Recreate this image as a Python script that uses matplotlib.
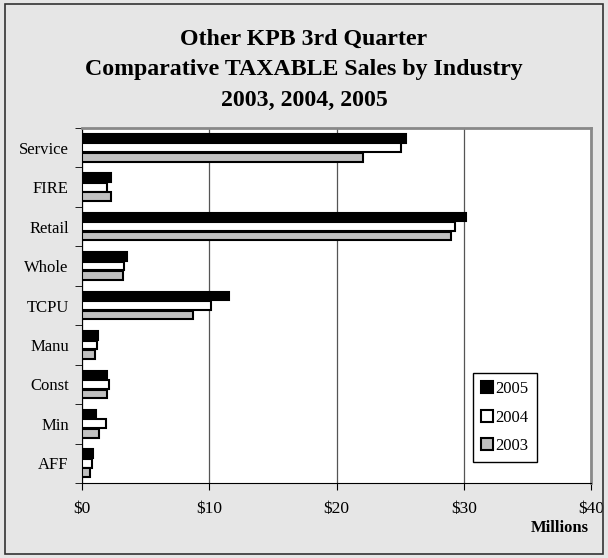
import numpy as np
import matplotlib.pyplot as plt
from matplotlib.patches import Rectangle

plt.rcParams['font.family'] = ['Liberation Serif', 'DejaVu Serif']

# Industries, top to bottom
industries = ['Service', 'FIRE', 'Retail', 'Whole', 'TCPU', 'Manu', 'Const', 'Min', 'AFF']
years = ['2005', '2004', '2003']

# Taxable sales in millions of dollars
sales_2005 = [25.5, 2.25, 30.2, 3.5, 11.55, 1.25, 1.95, 1.1, 0.9]
sales_2004 = [25.1, 2.0, 29.3, 3.3, 10.1, 1.2, 2.1, 1.9, 0.75]
sales_2003 = [22.1, 2.25, 29.0, 3.2, 8.7, 1.0, 2.0, 1.3, 0.65]

colors = ['black', 'white', '#c0c0c0']

fig = plt.figure(figsize=(6.08, 5.58), dpi=100, facecolor='#e6e6e6')
# outer frame
fig.patches.append(Rectangle((0.008, 0.008), 0.984, 0.984, transform=fig.transFigure,
                             fill=False, edgecolor='#333333', linewidth=1.2))

ax = fig.add_axes([82 / 608, 1 - 483 / 558, (591 - 82) / 608, (483 - 128) / 558])
ax.set_facecolor('white')

y = np.arange(len(industries))
h = 0.22
for i, (vals, c, lab) in enumerate(zip([sales_2005, sales_2004, sales_2003], colors, years)):
    ax.barh(y + (i - 1) * (h + 0.02), vals, height=h, color=c, edgecolor='black',
            linewidth=1.5, label=lab, zorder=3)

ax.set_ylim(len(industries) - 0.5, -0.5)
ax.set_xlim(0, 40)
ax.set_xticks([0, 10, 20, 30, 40])
ax.set_xticklabels(['$0', '$10', '$20', '$30', '$40'], fontsize=12.5)
ax.set_yticks(y)
ax.set_yticklabels(industries, fontsize=12)
ax.set_yticks(np.arange(len(industries) + 1) - 0.5, minor=True)
ax.tick_params(axis='y', which='major', length=0, pad=9.5)
ax.tick_params(axis='y', which='minor', length=5, direction='out')
ax.tick_params(axis='x', length=5, direction='out', pad=8)
ax.xaxis.grid(True, color='#555555', linewidth=0.9, zorder=0)

for side in ['top', 'right']:
    ax.spines[side].set_color('#888888')
    ax.spines[side].set_linewidth(2)
ax.spines['left'].set_color('black')
ax.spines['bottom'].set_color('black')

ax.set_xlabel('Millions', fontweight='bold', fontsize=12)
ax.xaxis.set_label_coords(0.939, -0.105)

leg = ax.legend(loc='lower right', bbox_to_anchor=(0.893, 0.058), fontsize=12,
                frameon=True, fancybox=False, edgecolor='black', framealpha=1,
                handlelength=0.7, handleheight=0.7, handletextpad=0.15,
                labelspacing=0.75, borderpad=0.5, borderaxespad=0)
leg.get_frame().set_linewidth(1)

title_lines = ['Other KPB 3rd Quarter', 'Comparative TAXABLE Sales by Industry',
               '2003, 2004, 2005']
for line, ypix in zip(title_lines, [39, 70, 100]):
    fig.text(0.5, 1 - ypix / 558, line, ha='center', va='center',
             fontsize=17.2, fontweight='bold')

plt.savefig('out.png', dpi=100, facecolor=fig.get_facecolor())
